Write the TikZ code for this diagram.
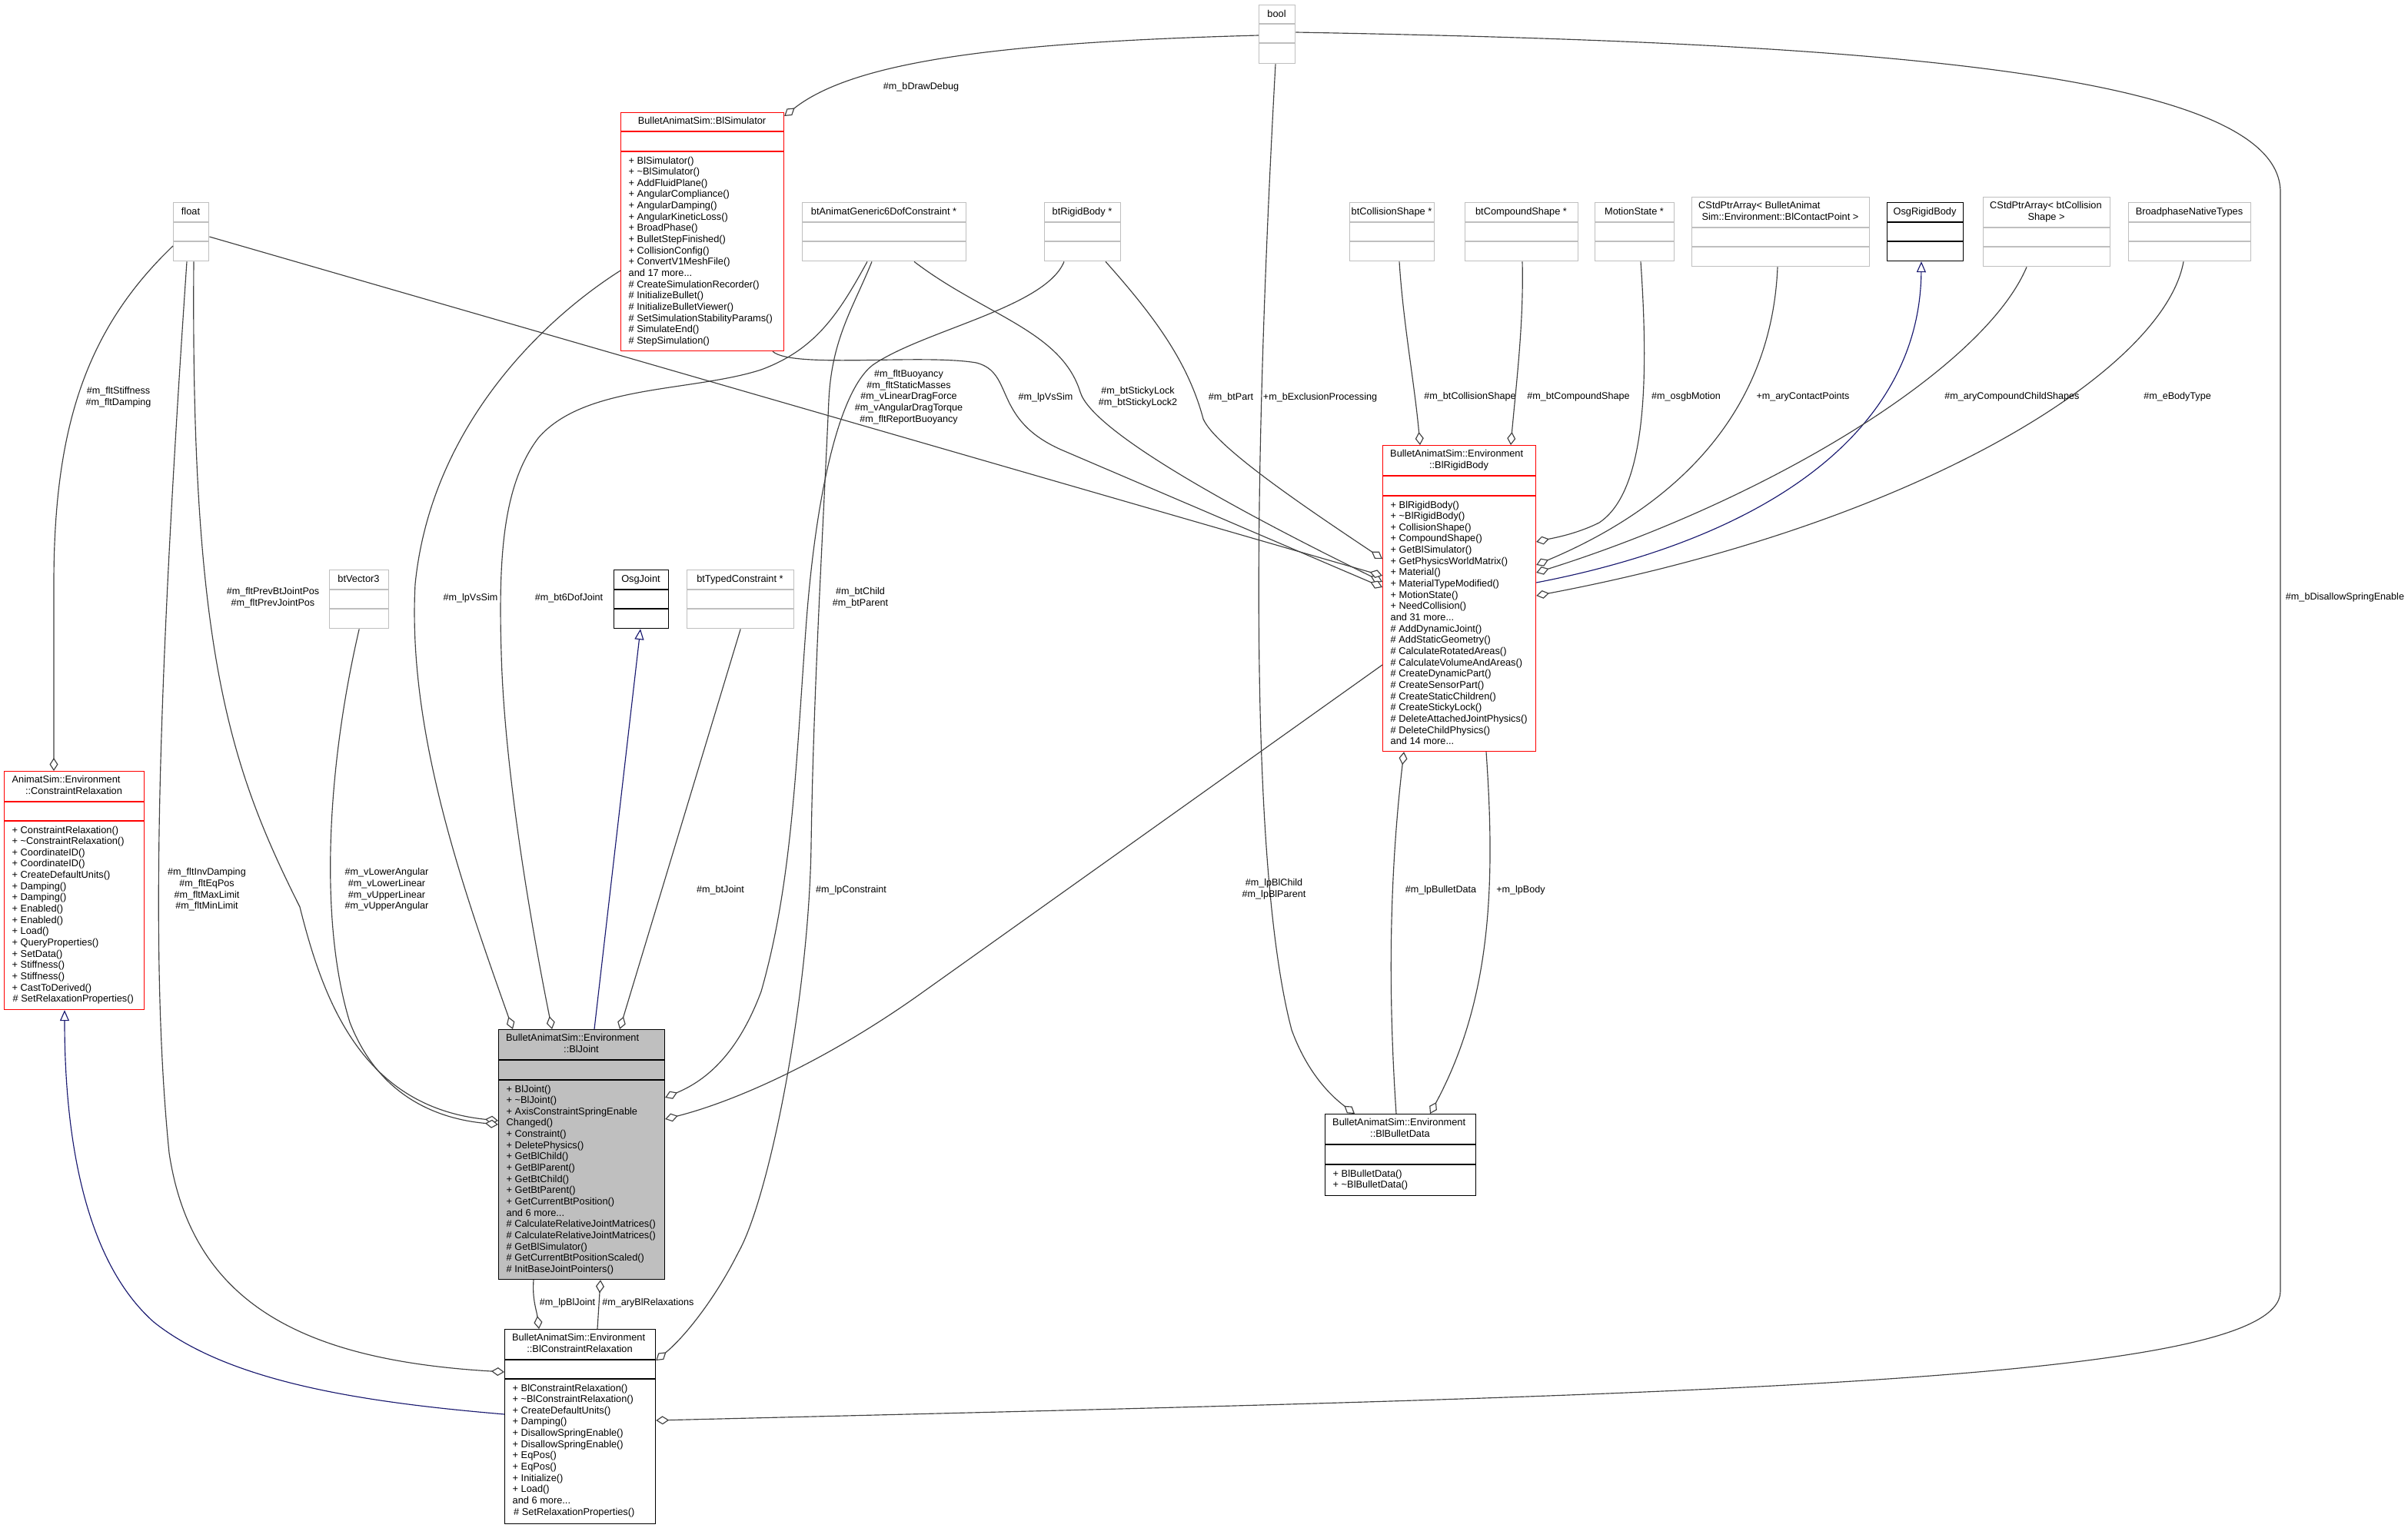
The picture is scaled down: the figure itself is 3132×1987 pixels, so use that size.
\documentclass[tikz,border=0pt]{standalone}
\usepackage{fontspec}
\setmainfont{Liberation Sans}
\usetikzlibrary{arrows.meta}
\definecolor{greyb}{RGB}{191,191,191}
\definecolor{edgec}{RGB}{64,64,64}
\definecolor{inhc}{RGB}{25,25,112}
\definecolor{redb}{RGB}{255,0,0}
% #1 name, #2 style, #3 left, #4 top, #5 right, #6 bottom, #7 sep1, #8 sep2
\newcommand{\ubox}[8]{%
  \node[#2, anchor=north west, minimum width={#5-#3}, minimum height={#6-#4}] (#1) at (#3,#4) {};
  \draw[#2, fill=none] (#3,#7) -- (#5,#7) (#3,#8) -- (#5,#8);}
\newcommand{\mlines}[1]{\begin{tabular}[t]{@{}l@{}}#1\end{tabular}}
\newcommand{\elines}[1]{\begin{tabular}{@{}c@{}}#1\end{tabular}}
\begin{document}
\begin{tikzpicture}[x=1pt,y=-1pt,
  boxR/.style={draw=redb, line width=1.2pt, fill=white, inner sep=0pt},
  boxG/.style={draw=greyb, line width=1.4pt, fill=white, inner sep=0pt},
  boxK/.style={draw=black, line width=1.2pt, fill=white, inner sep=0pt},
  boxJ/.style={draw=black, line width=1.2pt, fill=greyb, inner sep=0pt},
  ttl/.style={anchor=base, inner sep=0pt, font={\fontsize{12.8}{14.65}\selectfont}},
  ttlw/.style={anchor=base west, inner sep=0pt, font={\fontsize{12.8}{14.65}\selectfont}},
  mtx/.style={anchor=base west, inner sep=0pt, font={\fontsize{12.8}{14.65}\selectfont}},
  elab/.style={inner sep=0pt, font={\fontsize{12.6}{14.65}\selectfont}},
  agg/.style={draw=edgec, line width=1.15pt, line join=round, -{Diamond[length=17pt,width=11pt,fill=white]}},
  inh/.style={draw=inhc, line width=1.15pt, line join=round, -{Triangle[length=14pt,width=12pt,fill=white]}}]
\useasboundingbox (0,0) rectangle (3132,1987);
\fill[white] (0,0) rectangle (3132,1987);

% ---------------- boxes
\ubox{bool}{boxG}{1637}{6}{1684}{82}{31}{56}
\ubox{float}{boxG}{225}{263}{271}{339}{289}{314}
\ubox{sim}{boxR}{807}{146}{1019}{456}{171}{197}
\ubox{gen6}{boxG}{1043}{263}{1256}{339}{289}{314}
\ubox{btrb}{boxG}{1358}{263}{1457}{339}{289}{314}
\ubox{bcs}{boxG}{1755}{263}{1865}{339}{289}{314}
\ubox{bcomp}{boxG}{1905}{263}{2052}{339}{289}{314}
\ubox{mstate}{boxG}{2074}{263}{2177}{339}{289}{314}
\ubox{cpa}{boxG}{2200}{256}{2431}{346}{296}{321}
\ubox{osgrb}{boxK}{2454}{263}{2553}{339}{289}{314}
\ubox{ccs}{boxG}{2579}{256}{2744}{346}{296}{321}
\ubox{bpnt}{boxG}{2768}{263}{2927}{339}{289}{314}
\ubox{rb}{boxR}{1798}{579}{1997}{977}{619}{645}
\ubox{vec3}{boxG}{428}{741}{505}{817}{767}{792}
\ubox{osgj}{boxK}{798}{741}{869}{817}{767}{792}
\ubox{btc}{boxG}{893}{741}{1032}{817}{767}{792}
\ubox{joint}{boxJ}{648}{1339}{864}{1664}{1379}{1405}
\ubox{bdata}{boxK}{1723}{1449}{1919}{1555}{1489}{1515}
\ubox{crel}{boxR}{5}{1003}{187}{1313}{1043}{1068}
\ubox{bcrel}{boxK}{656}{1729}{852}{1982}{1769}{1794}

% ---------------- connectors
\draw[agg] (bool.west |- 0,46) .. controls (1300,55) and (1110,80) .. (sim.east |- 0,151);
\draw[agg] (1659,0 |- bool.south) .. controls (1625,700) and (1630,1150) .. (1680,1340) .. controls (1700,1395) and (1730,1425) .. (1762,0 |- bdata.north);
\draw[agg] (bool.east |- 0,42) .. controls (2400,55) and (2966,90) .. (2966,250) -- (2966,1680) .. controls (2966,1800) and (2200,1815) .. (bcrel.east |- 0,1848);
\draw[agg] (float.west |- 0,320) .. controls (110,430) and (70,560) .. (70,760) -- (70,0 |- crel.north);
\draw[agg] (243,0 |- float.south) .. controls (205,900) and (195,1250) .. (220,1500) .. controls (250,1700) and (400,1770) .. (bcrel.west |- 0,1785);
\draw[agg] (252,0 |- float.south) .. controls (248,850) and (300,1000) .. (390,1180) .. controls (420,1300) and (470,1440) .. (joint.west |- 0,1458);
\draw[agg] (vec3.south) .. controls (425,1000) and (415,1200) .. (455,1330) .. controls (490,1420) and (560,1455) .. (joint.west |- 0,1463);
\draw[agg] (sim.west |- 0,352) .. controls (700,420) and (560,560) .. (540,760) .. controls (530,950) and (600,1150) .. (667,0 |- joint.north);
\draw[agg] (1128,0 |- gen6.south) .. controls (1090,410) and (1060,455) .. (990,481) .. controls (900,510) and (760,500) .. (700,570) .. controls (655,630) and (648,720) .. (652,850) .. controls (656,1000) and (690,1200) .. (718,0 |- joint.north);
\draw[agg] (1134,0 |- gen6.south) .. controls (1110,400) and (1082,440) .. (1078,520) .. controls (1070,700) and (1058,900) .. (1055,1100) .. controls (1052,1300) and (1000,1560) .. (960,1630) .. controls (930,1690) and (890,1740) .. (bcrel.east |- 0,1770);
\draw[agg] (1384,0 |- btrb.south) .. controls (1360,400) and (1200,430) .. (1135,475) .. controls (1090,510) and (1060,650) .. (1048,820) .. controls (1035,1000) and (1030,1150) .. (990,1290) .. controls (960,1370) and (920,1405) .. (joint.east |- 0,1428);
\draw[agg] (1438,0 |- btrb.south) .. controls (1500,410) and (1545,470) .. (1565,545) .. controls (1580,580) and (1690,655) .. (rb.west |- 0,727);
\draw[agg] (1189,0 |- gen6.south) .. controls (1280,410) and (1380,430) .. (1405,510) .. controls (1420,560) and (1600,660) .. (rb.west |- 0,757);
\draw[agg] (1005,0 |- sim.south) .. controls (1030,480) and (1200,460) .. (1270,472) .. controls (1320,485) and (1290,545) .. (1380,585) -- (rb.west |- 0,764);
\draw[agg] (float.east |- 0,308) -- (rb.west |- 0,749);
\draw[agg] (1820,0 |- bcs.south) .. controls (1825,420) and (1840,500) .. (1847,0 |- rb.north);
\draw[agg] (1980,0 |- bcomp.south) .. controls (1982,420) and (1972,500) .. (1965,0 |- rb.north);
\draw[agg] (2134,0 |- mstate.south) .. controls (2145,500) and (2140,640) .. (2080,680) .. controls (2050,695) and (2020,700) .. (rb.east |- 0,705);
\draw[agg] (2312,0 |- cpa.south) .. controls (2305,520) and (2200,650) .. (rb.east |- 0,735);
\draw[inh] (rb.east |- 0,758) .. controls (2300,700) and (2497,560) .. (2499,0 |- osgrb.south);
\draw[agg] (2636,0 |- ccs.south) .. controls (2580,480) and (2300,650) .. (rb.east |- 0,745);
\draw[agg] (2840,0 |- bpnt.south) .. controls (2815,480) and (2500,680) .. (rb.east |- 0,775);
\draw[agg] (rb.west |- 0,865) -- (1200,1291) .. controls (1080,1377) and (960,1432) .. (joint.east |- 0,1456);
\draw[agg] (1816,0 |- bdata.north) .. controls (1806,1300) and (1806,1150) .. (1826,0 |- rb.south);
\draw[agg] (1933,0 |- rb.south) .. controls (1945,1150) and (1940,1300) .. (1860,0 |- bdata.north);
\draw[agg] (694,0 |- joint.south) .. controls (692,1690) and (698,1705) .. (701,0 |- bcrel.north);
\draw[agg] (777,0 |- bcrel.north) -- (781,0 |- joint.south);
\draw[inh] (773,0 |- joint.north) -- (833,0 |- osgj.south);
\draw[agg] (btc.south) -- (806,0 |- joint.north);
\draw[inh] (bcrel.west |- 0,1840) .. controls (480,1825) and (300,1800) .. (200,1720) .. controls (110,1640) and (84,1480) .. (84,0 |- crel.south);

% ---------------- box titles
\node[ttl] (bool-t) at (1660.5,22.5) {bool};
\node[ttl] (float-t) at (248,279.5) {float};
\node[ttl] (sim-t) at (913,161.5) {BulletAnimatSim::BlSimulator};
\node[ttl] (gen6-t) at (1149.5,279.5) {btAnimatGeneric6DofConstraint *};
\node[ttl] (btrb-t) at (1407.5,279.5) {btRigidBody *};
\node[ttl] (bcs-t) at (1810,279.5) {btCollisionShape *};
\node[ttl] (bcomp-t) at (1978.5,279.5) {btCompoundShape *};
\node[ttl] (mstate-t) at (2125.5,279.5) {MotionState *};
\node[ttlw] (cpa-t1) at (2209,271.7) {CStdPtrArray< BulletAnimat};
\node[ttl] (cpa-t2) at (2315.5,286.7) {Sim::Environment::BlContactPoint >};
\node[ttl] (osgrb-t) at (2503.5,279.5) {OsgRigidBody};
\node[ttlw] (ccs-t1) at (2588,271.7) {CStdPtrArray< btCollision};
\node[ttl] (ccs-t2) at (2661.5,286.7) {Shape >};
\node[ttl] (bpnt-t) at (2847.5,279.5) {BroadphaseNativeTypes};
\node[ttl] (vec3-t) at (466.5,757.5) {btVector3};
\node[ttl] (osgj-t) at (833.5,757.5) {OsgJoint};
\node[ttl] (btc-t) at (962.5,757.5) {btTypedConstraint *};
\node[ttlw] (rb-t1) at (1808,594.7) {BulletAnimatSim::Environment};
\node[ttl] (rb-t2) at (1897.5,609.7) {::BlRigidBody};
\node[ttlw] (joint-t1) at (658,1354.7) {BulletAnimatSim::Environment};
\node[ttl] (joint-t2) at (756,1369.7) {::BlJoint};
\node[ttlw] (bdata-t1) at (1733,1464.7) {BulletAnimatSim::Environment};
\node[ttl] (bdata-t2) at (1821,1479.7) {::BlBulletData};
\node[ttlw] (crel-t1) at (15.5,1018.7) {AnimatSim::Environment};
\node[ttl] (crel-t2) at (96,1033.7) {::ConstraintRelaxation};
\node[ttlw] (bcrel-t1) at (666,1744.7) {BulletAnimatSim::Environment};
\node[ttl] (bcrel-t2) at (754,1759.7) {::BlConstraintRelaxation};

% ---------------- member lists
\node[mtx] (sim-m) at (817.5,213) {\mlines{+ BlSimulator()\\+ \textasciitilde BlSimulator()\\+ AddFluidPlane()\\+ AngularCompliance()\\+ AngularDamping()\\+ AngularKineticLoss()\\+ BroadPhase()\\+ BulletStepFinished()\\+ CollisionConfig()\\+ ConvertV1MeshFile()\\and 17 more...\\\# CreateSimulationRecorder()\\\# InitializeBullet()\\\# InitializeBulletViewer()\\\# SetSimulationStabilityParams()\\\# SimulateEnd()\\\# StepSimulation()}};
\node[mtx] (rb-m) at (1808.5,661) {\mlines{+ BlRigidBody()\\+ \textasciitilde BlRigidBody()\\+ CollisionShape()\\+ CompoundShape()\\+ GetBlSimulator()\\+ GetPhysicsWorldMatrix()\\+ Material()\\+ MaterialTypeModified()\\+ MotionState()\\+ NeedCollision()\\and 31 more...\\\# AddDynamicJoint()\\\# AddStaticGeometry()\\\# CalculateRotatedAreas()\\\# CalculateVolumeAndAreas()\\\# CreateDynamicPart()\\\# CreateSensorPart()\\\# CreateStaticChildren()\\\# CreateStickyLock()\\\# DeleteAttachedJointPhysics()\\\# DeleteChildPhysics()\\and 14 more...}};
\node[mtx] (joint-m) at (658.5,1421) {\mlines{+ BlJoint()\\+ \textasciitilde BlJoint()\\+ AxisConstraintSpringEnable\\Changed()\\+ Constraint()\\+ DeletePhysics()\\+ GetBlChild()\\+ GetBlParent()\\+ GetBtChild()\\+ GetBtParent()\\+ GetCurrentBtPosition()\\and 6 more...\\\# CalculateRelativeJointMatrices()\\\# CalculateRelativeJointMatrices()\\\# GetBlSimulator()\\\# GetCurrentBtPositionScaled()\\\# InitBaseJointPointers()}};
\node[mtx] (bdata-m) at (1733.5,1531) {\mlines{+ BlBulletData()\\+ \textasciitilde BlBulletData()}};
\node[mtx] (crel-m) at (15.5,1084) {\mlines{+ ConstraintRelaxation()\\+ \textasciitilde ConstraintRelaxation()\\+ CoordinateID()\\+ CoordinateID()\\+ CreateDefaultUnits()\\+ Damping()\\+ Damping()\\+ Enabled()\\+ Enabled()\\+ Load()\\+ QueryProperties()\\+ SetData()\\+ Stiffness()\\+ Stiffness()\\+ CastToDerived()\\\kern1pt\# SetRelaxationProperties()}};
\node[mtx] (bcrel-m) at (666.5,1810) {\mlines{+ BlConstraintRelaxation()\\+ \textasciitilde BlConstraintRelaxation()\\+ CreateDefaultUnits()\\+ Damping()\\+ DisallowSpringEnable()\\+ DisallowSpringEnable()\\+ EqPos()\\+ EqPos()\\+ Initialize()\\+ Load()\\and 6 more...\\\kern1.5pt\# SetRelaxationProperties()}};

% ---------------- connector labels
\node[elab] (l1) at (1198,113) {\#m\_bDrawDebug};
\node[elab] (l2) at (1717,517) {+m\_bExclusionProcessing};
\node[elab] (l3) at (3050,777) {\#m\_bDisallowSpringEnable};
\node[elab] (l4) at (154,517) {\elines{\#m\_fltStiffness\\\#m\_fltDamping}};
\node[elab] (l5) at (269,1158) {\elines{\#m\_fltInvDamping\\\#m\_fltEqPos\\\#m\_fltMaxLimit\\\#m\_fltMinLimit}};
\node[elab] (l6) at (355,778) {\elines{\#m\_fltPrevBtJointPos\\\#m\_fltPrevJointPos}};
\node[elab] (l7) at (503,1158) {\elines{\#m\_vLowerAngular\\\#m\_vLowerLinear\\\#m\_vUpperLinear\\\#m\_vUpperAngular}};
\node[elab] (l8) at (612,778) {\#m\_lpVsSim};
\node[elab] (l9) at (740,778) {\#m\_bt6DofJoint};
\node[elab] (l10) at (937,1158) {\#m\_btJoint};
\node[elab] (l11) at (1107,1158) {\#m\_lpConstraint};
\node[elab] (l12) at (1119,778) {\elines{\#m\_btChild\\\#m\_btParent}};
\node[elab] (l13) at (1182,517) {\elines{\#m\_fltBuoyancy\\\#m\_fltStaticMasses\\\#m\_vLinearDragForce\\\#m\_vAngularDragTorque\\\#m\_fltReportBuoyancy}};
\node[elab] (l14) at (1360,517) {\#m\_lpVsSim};
\node[elab] (l15) at (1480,517) {\elines{\#m\_btStickyLock\\\#m\_btStickyLock2}};
\node[elab] (l16) at (1601,517) {\#m\_btPart};
\node[elab] (l17) at (1912,516) {\#m\_btCollisionShape};
\node[elab] (l18) at (2053,516) {\#m\_btCompoundShape};
\node[elab] (l19) at (2193,516) {\#m\_osgbMotion};
\node[elab] (l20) at (2345,516) {+m\_aryContactPoints};
\node[elab] (l21) at (2617,516) {\#m\_aryCompoundChildShapes};
\node[elab] (l22) at (2832,516) {\#m\_eBodyType};
\node[elab] (l23) at (1657,1157) {\elines{\#m\_lpBlChild\\\#m\_lpBlParent}};
\node[elab] (l24) at (1874,1158) {\#m\_lpBulletData};
\node[elab] (l25) at (1978,1158) {+m\_lpBody};
\node[elab] (l26) at (738,1695) {\#m\_lpBlJoint};
\node[elab] (l27) at (843,1695) {\#m\_aryBlRelaxations};
\end{tikzpicture}
\end{document}
